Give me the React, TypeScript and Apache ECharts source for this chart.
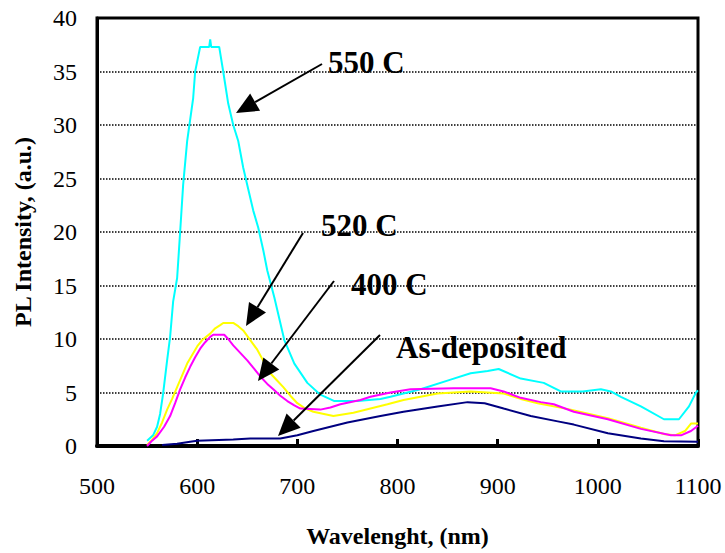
import React, { useEffect, useRef } from "react";
import * as echarts from "echarts";

// ---- Data ----
const xTickMin = 500;
const xTickMax = 1100;
const xTickStep = 100;
const yTickMin = 0;
const yTickMax = 40;
const yTickStep = 5;

const wl550 = [550, 556, 560, 563, 566, 570, 573, 576, 580, 583, 586, 590, 596, 598, 603, 612, 613, 614, 622, 626, 631, 636, 641, 646, 651, 656, 661, 666, 670, 677, 687, 697, 710, 723, 737, 760, 783, 793, 823, 853, 873, 890, 901, 923, 946, 963, 985, 1003, 1013, 1023, 1043, 1066, 1081, 1091, 1098, 1100];
const pl550 = [0.5, 1.0, 1.8, 3.0, 4.9, 8.0, 10.2, 13.5, 15.7, 20.0, 24.4, 28.5, 32.5, 35.0, 37.3, 37.3, 38.0, 37.3, 37.3, 35.0, 32.0, 30.0, 28.5, 26.0, 24.0, 22.0, 20.4, 18.3, 16.4, 13.9, 9.9, 7.7, 5.9, 4.8, 4.2, 4.2, 4.4, 4.6, 5.3, 6.2, 6.8, 7.0, 7.2, 6.3, 5.9, 5.1, 5.1, 5.3, 5.1, 4.6, 3.7, 2.5, 2.5, 3.7, 5.0, 5.2];

const wl520 = [550, 555, 560, 565, 570, 575, 580, 585, 590, 595, 600, 605, 613, 618, 623, 626, 636, 641, 646, 653, 660, 667, 673, 680, 686, 693, 700, 708, 716, 736, 756, 773, 790, 806, 840, 873, 906, 923, 940, 973, 1010, 1043, 1067, 1077, 1087, 1093, 1100];
const pl520 = [0.1, 0.6, 1.2, 2.2, 3.4, 4.4, 5.5, 6.6, 7.7, 8.5, 9.3, 9.9, 10.5, 11.0, 11.3, 11.5, 11.5, 11.2, 10.8, 9.9, 9.0, 7.8, 6.8, 6.1, 5.5, 4.7, 4.0, 3.5, 3.2, 2.8, 3.1, 3.5, 3.9, 4.3, 4.9, 5.1, 4.9, 4.4, 4.0, 3.4, 2.6, 1.7, 1.1, 1.0, 1.4, 2.1, 2.1];

const wl400 = [550, 555, 560, 567, 573, 578, 583, 588, 593, 598, 603, 608, 613, 616, 627, 631, 636, 643, 650, 657, 663, 670, 676, 683, 690, 697, 703, 723, 733, 743, 763, 773, 793, 813, 856, 893, 906, 923, 943, 956, 976, 1010, 1043, 1073, 1083, 1093, 1100];
const pl400 = [0.0, 0.5, 0.9, 1.8, 2.8, 4.0, 5.3, 6.4, 7.4, 8.3, 9.1, 9.7, 10.2, 10.4, 10.4, 10.0, 9.4, 8.7, 8.0, 7.2, 6.5, 5.8, 5.3, 4.7, 4.2, 3.8, 3.5, 3.4, 3.6, 3.9, 4.3, 4.6, 5.0, 5.3, 5.4, 5.4, 5.1, 4.5, 4.1, 3.9, 3.2, 2.5, 1.6, 1.0, 1.0, 1.4, 1.9];

const wlAsDep = [565, 580, 593, 600, 636, 653, 683, 700, 716, 750, 783, 806, 840, 870, 887, 906, 933, 960, 976, 1010, 1043, 1066, 1100];
const plAsDep = [0.1, 0.2, 0.4, 0.5, 0.6, 0.7, 0.7, 1.0, 1.4, 2.2, 2.8, 3.2, 3.7, 4.1, 4.0, 3.5, 2.8, 2.3, 2.0, 1.2, 0.7, 0.45, 0.4];

const seriesNames = ["550 C", "520 C", "400 C", "As-deposited"];
const seriesColors = ["#00FFFF", "#FFFF00", "#FF00FF", "#000080"];
const seriesX = [wl550, wl520, wl400, wlAsDep];
const seriesY = [pl550, pl520, pl400, plAsDep];

const xAxisTitle = "Wavelenght, (nm)";
const yAxisTitle = "PL Intensity, (a.u.)";

const FONT = "'Liberation Serif', 'Times New Roman', Times, serif";

function zip(xs: number[], ys: number[]) {
  return xs.map((x, i) => [x, ys[i]]);
}

function arrow(x1: number, y1: number, x2: number, y2: number) {
  const dx = x2 - x1;
  const dy = y2 - y1;
  const len = Math.sqrt(dx * dx + dy * dy);
  const ux = dx / len;
  const uy = dy / len;
  const headLen = 22;
  const halfW = 10;
  const bx = x2 - ux * headLen;
  const by = y2 - uy * headLen;
  const px = -uy;
  const py = ux;
  return [
    {
      type: "line",
      shape: { x1, y1, x2: bx, y2: by },
      style: { stroke: "#000", lineWidth: 2 },
      z: 100,
    },
    {
      type: "polygon",
      shape: {
        points: [
          [x2, y2],
          [bx + px * halfW, by + py * halfW],
          [bx - px * halfW, by - py * halfW],
        ],
      },
      style: { fill: "#000" },
      z: 100,
    },
  ];
}

function label(text: string, x: number, y: number) {
  return {
    type: "text",
    x,
    y,
    z: 100,
    style: {
      text,
      font: `bold 31px ${FONT}`,
      fill: "#000",
      align: "left",
      verticalAlign: "middle",
    },
  };
}

export default function App() {
  const ref = useRef<HTMLDivElement>(null);

  useEffect(() => {
    if (!ref.current) return;
    const chart = echarts.init(ref.current, undefined, { renderer: "svg" });

    const graphic: any[] = [
      ...arrow(322, 64, 236, 113),
      ...arrow(303, 233, 246, 326),
      ...arrow(334, 281, 258, 381),
      ...arrow(380, 335, 278, 436),
      label(seriesNames[0], 328, 62.5),
      label(seriesNames[1], 321, 225.5),
      label(seriesNames[2], 351, 284.5),
      label(seriesNames[3], 396, 347.5),
    ];

    chart.setOption({
      animation: false,
      backgroundColor: "#fff",
      textStyle: { fontFamily: FONT },
      grid: {
        show: true,
        left: 97,
        right: 27,
        top: 18,
        bottom: 102,
        borderColor: "#000",
        borderWidth: 3,
        backgroundColor: "transparent",
      },
      xAxis: {
        type: "value",
        min: xTickMin,
        max: xTickMax,
        interval: xTickStep,
        name: xAxisTitle,
        nameLocation: "middle",
        nameGap: 78,
        nameTextStyle: { fontFamily: FONT, fontWeight: "bold", fontSize: 24, color: "#000" },
        axisLine: { show: true, lineStyle: { color: "#000", width: 4 } },
        axisTick: { show: true, inside: true, length: 7, lineStyle: { color: "#000", width: 3 } },
        axisLabel: {
          fontFamily: FONT,
          fontSize: 24,
          color: "#000",
          margin: 28,
          formatter: (v: number) => String(v),
        },
        splitLine: { show: false },
      },
      yAxis: {
        type: "value",
        min: yTickMin,
        max: yTickMax,
        interval: yTickStep,
        name: yAxisTitle,
        nameLocation: "middle",
        nameGap: 62,
        nameTextStyle: { fontFamily: FONT, fontWeight: "bold", fontSize: 24, color: "#000" },
        axisLine: { show: true, lineStyle: { color: "#000", width: 3 } },
        axisTick: { show: false },
        axisLabel: {
          fontFamily: FONT,
          fontSize: 24,
          color: "#000",
          margin: 20,
          formatter: (v: number) => String(v),
        },
        splitLine: { show: true, lineStyle: { color: "#000", width: 1.5, type: [1.5, 1.5] } },
      },
      series: seriesNames.map((name, i) => ({
        name,
        type: "line",
        data: zip(seriesX[i], seriesY[i]),
        showSymbol: false,
        symbol: "none",
        lineStyle: { color: seriesColors[i], width: 2 },
        itemStyle: { color: seriesColors[i] },
        z: 2 + i,
      })),
      graphic,
    });

    return () => chart.dispose();
  }, []);

  return (
    <div
      ref={ref}
      style={{ position: "fixed", left: 0, top: 0, width: 725, height: 553, background: "#fff" }}
    />
  );
}
